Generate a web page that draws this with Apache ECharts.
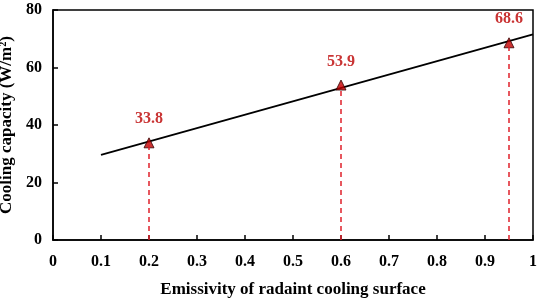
<!DOCTYPE html>
<html>
<head>
<meta charset="utf-8">
<script src="https://cdn.jsdelivr.net/npm/echarts@6/dist/echarts.min.js"></script>
<style>
  html, body { margin: 0; padding: 0; background: #fff; }
  #main { width: 540px; height: 302px; }
</style>
</head>
<body>
<div id="main"></div>
<script>
// 数据
var emissivity = [0.2, 0.6, 0.95];
var capacity = [33.8, 53.9, 68.6];
var fitX = [0.1, 1];
var fitY = [29.6, 71.5];

var xTicks = ['0', '0.1', '0.2', '0.3', '0.4', '0.5', '0.6', '0.7', '0.8', '0.9', '1'];

var dom = document.getElementById('main');
var chart = echarts.init(dom);

var font = '"Liberation Serif", "Times New Roman", serif';
var red = '#bb0000';

var points = emissivity.map(function (x, i) { return [x, capacity[i]]; });
var fit = fitX.map(function (x, i) { return [x, fitY[i]]; });
var drops = emissivity.map(function (x, i) {
    return [{ coord: [x, 0] }, { coord: [x, capacity[i]] }];
});

var option = {
    animation: false,
    grid: {
        left: 53, right: 7, top: 10, bottom: 62,
        outerBoundsMode: 'none',
        show: true, borderColor: '#000', borderWidth: 1.5
    },
    xAxis: {
        type: 'value',
        min: 0, max: 1, interval: 0.1,
        name: 'Emissivity of radaint cooling surface',
        nameLocation: 'middle',
        nameGap: 41,
        nameTextStyle: { fontFamily: font, fontWeight: 'bold', fontSize: 17, color: '#000' },
        axisLine: { show: true, lineStyle: { color: '#000', width: 1.5 } },
        axisTick: { show: true, inside: true, length: 5, lineStyle: { color: '#000', width: 1.5 } },
        splitLine: { show: false },
        axisLabel: {
            margin: 14,
            fontFamily: font, fontWeight: 'bold', fontSize: 16, color: '#000',
            formatter: function (v) { return xTicks[Math.round(v * 10)]; }
        }
    },
    yAxis: {
        type: 'value',
        min: 0, max: 80, interval: 20,
        name: 'Cooling capacity (W/m²)',
        nameLocation: 'middle',
        nameGap: 32,
        nameTextStyle: { fontFamily: font, fontWeight: 'bold', fontSize: 17, color: '#000' },
        axisLine: { show: true, lineStyle: { color: '#000', width: 1.5 } },
        axisTick: { show: true, inside: true, length: 5, lineStyle: { color: '#000', width: 1.5 } },
        splitLine: { show: false },
        axisLabel: { margin: 11, fontFamily: font, fontWeight: 'bold', fontSize: 16, color: '#000' }
    },
    series: [
        {
            type: 'line',
            data: fit,
            symbol: 'none',
            lineStyle: { color: '#000', width: 1.8 },
            z: 3
        },
        {
            type: 'scatter',
            data: points,
            symbol: 'triangle',
            symbolSize: 10,
            itemStyle: { color: '#c00000', borderColor: '#300', borderWidth: 1 },
            label: {
                show: true,
                position: 'top',
                distance: 10,
                fontFamily: font, fontWeight: 'bold', fontSize: 16, color: red,
                formatter: function (p) { return p.value[1].toFixed(1); }
            },
            markLine: {
                silent: true,
                symbol: 'none',
                label: { show: false },
                lineStyle: { color: '#e0202a', type: [5, 4], width: 1.5 },
                data: drops
            },
            z: 4
        }
    ]
};

chart.setOption(option);
window.addEventListener('resize', function () {
    chart.resize();
});
</script>
</body>
</html>
